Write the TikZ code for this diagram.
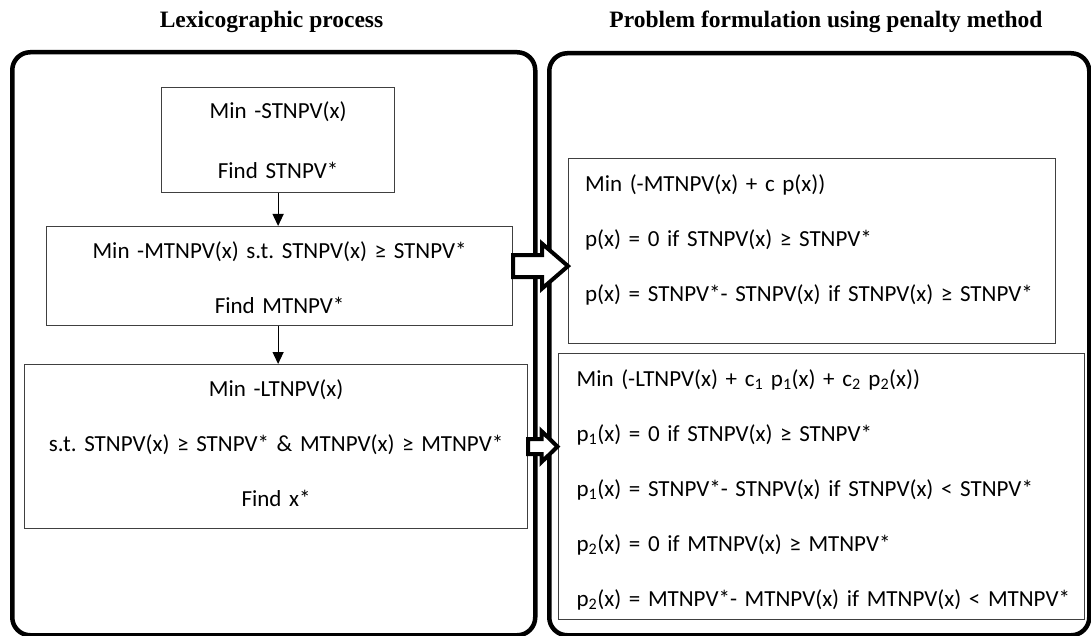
\documentclass[tikz,border=0pt]{standalone}
\usepackage{fontspec}
\setmainfont{Carlito}[WordSpace=0.65]
\newfontfamily\titlefont{Liberation Serif}
\usepackage{tikz}
\usetikzlibrary{arrows.meta,positioning,calc}
\frenchspacing

\tikzset{
  panel/.style={draw, line width=4.5pt, rounded corners=18pt, anchor=north west, inner sep=0pt},
  heading/.style={font=\titlefont\bfseries\fontsize{23.5}{28}\selectfont},
  stepbox/.style={draw=black!75, line width=1.2pt, anchor=north west, inner sep=0pt,
    align=center, font=\fontsize{23}{55}\selectfont},
  penbox/.style={draw=black!75, line width=1.2pt, anchor=north west, inner sep=0pt,
    align=left, font=\fontsize{23}{55}\selectfont},
  flow/.style={-{Triangle[length=12pt,width=11pt]}, line width=1.2pt},
  fatarrow/.style={draw, fill=white, line width=4pt, line join=miter},
}

% start, tip, half shaft, half head, head length
\newcommand{\blockarrow}[5]{%
  \draw[fatarrow] let \p1=(#1), \p2=(#2) in
    (\x1,\y1+#3) -- (\x2-#5,\y1+#3) -- (\x2-#5,\y1+#4) -- (\x2,\y1)
    -- (\x2-#5,\y1-#4) -- (\x2-#5,\y1-#3) -- (\x1,\y1-#3) -- cycle;}

\begin{document}
\begin{tikzpicture}[x=1pt, y=-1pt]
        \useasboundingbox (0,0) rectangle (1091,636);

        % Headings
        \node[heading] (lextitle) at (271.5,22) {Lexicographic process};
        \node[heading] (pentitle) at (826,22) {Problem formulation using penalty method};

        % Panels
        \node[panel, minimum width=523pt, minimum height=583pt] (lexpanel) at (10,50) {};
        \node[panel, minimum width=540pt, minimum height=582pt] (penpanel) at (547,51) {};

        % Lexicographic steps
        \node[stepbox, text width=233pt, text height=30.5pt, text depth=74.5pt] (stnpv) at (161,87)
            {Min -STNPV(x)\\[5pt] Find STNPV*};
        \node[stepbox, text width=466pt, text height=31.5pt, text depth=67.5pt] (mtnpv) at (46,226)
            {Min -MTNPV(x) s.t. STNPV(x) ≥ STNPV*\\ Find MTNPV*};
        \node[stepbox, text width=503pt, text height=31.5pt, text depth=132.5pt] (ltnpv) at (24,364)
            {Min -LTNPV(x)\\ s.t. STNPV(x) ≥ STNPV* \& MTNPV(x) ≥ MTNPV*\\ Find x*};

        % Penalty formulations
        \node[penbox, text width=487pt, text height=32.5pt, text depth=152.5pt] (penmt) at (568,158)
            {\leftskip=16.5pt Min (-MTNPV(x) + c p(x))\\
             p(x) = 0 if STNPV(x) ≥ STNPV*\\
             p(x) = STNPV*- STNPV(x) if STNPV(x) ≥ STNPV*\par};
        \node[penbox, text width=526pt, text height=32.5pt, text depth=233.5pt] (penlt) at (557.5,353)
            {\leftskip=18.5pt Min (-LTNPV(x) + c\textsubscript{1} p\textsubscript{1}(x) + c\textsubscript{2} p\textsubscript{2}(x))\\
             p\textsubscript{1}(x) = 0 if STNPV(x) ≥ STNPV*\\
             p\textsubscript{1}(x) = STNPV*- STNPV(x) if STNPV(x) < STNPV*\\
             p\textsubscript{2}(x) = 0 if MTNPV(x) ≥ MTNPV*\\
             p\textsubscript{2}(x) = MTNPV*- MTNPV(x) if MTNPV(x) < MTNPV*\par};

        % Flow
        \draw[flow] (stnpv.south) -- (stnpv.south |- mtnpv.north);
        \draw[flow] (stnpv.south |- mtnpv.south) -- (stnpv.south |- ltnpv.north);

        % Block arrows
        \blockarrow{$(mtnpv.east)+(0,-10)$}{penmt.west}{11}{22.5}{26}
        \blockarrow{ltnpv.east}{penlt.west}{7.5}{15.5}{16}
\end{tikzpicture}
\end{document}
